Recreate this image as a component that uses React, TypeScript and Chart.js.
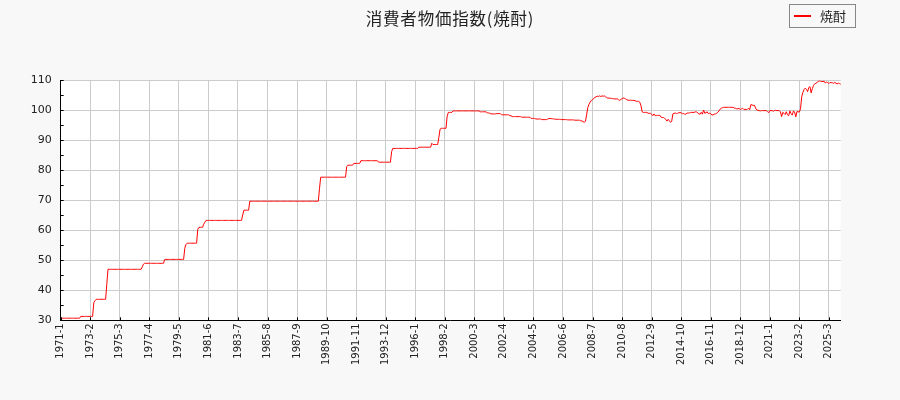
import React, { useEffect, useRef } from "react";
import { Chart, registerables } from "chart.js";

Chart.register(...registerables);

const TITLE = "消費者物価指数(焼酎)";
const SERIES_NAME = "焼酎";
const START_YEAR = 1971;
const LABEL_EVERY = 25;
const Y_MIN = 30;
const Y_MAX = 110;
const Y_STEP = 10;
const Y_MINOR = 5;

// monthly index values, one row per year (Jan..Dec), from 1971-1 to 2026-1
const values: number[] = [
  30.7, 30.7, 30.7, 30.7, 30.7, 30.7, 30.7, 30.7, 30.7, 30.7, 30.7, 30.7, // 1971
  30.7, 30.7, 30.7, 30.7, 30.7, 31.3, 31.3, 31.3, 31.3, 31.3, 31.3, 31.3, // 1972
  31.3, 31.3, 31.3, 31.3, 35.9, 36.5, 37.0, 37.0, 37.0, 37.0, 37.0, 37.0, // 1973
  37.0, 37.0, 37.0, 42.0, 47.0, 47.0, 47.0, 47.0, 47.0, 47.0, 47.0, 47.0, // 1974
  47.0, 47.0, 47.0, 47.0, 47.0, 47.0, 47.0, 47.0, 47.0, 47.0, 47.0, 47.0, // 1975
  47.0, 47.0, 47.0, 47.0, 47.0, 47.0, 47.0, 47.0, 47.0, 47.8, 48.7, 49.0, // 1976
  49.0, 49.0, 49.0, 49.0, 49.0, 49.0, 49.0, 49.0, 49.0, 49.0, 49.0, 49.0, // 1977
  49.0, 49.0, 49.0, 49.0, 50.3, 50.3, 50.3, 50.3, 50.3, 50.3, 50.3, 50.3, // 1978
  50.3, 50.3, 50.3, 50.3, 50.3, 50.3, 50.3, 50.3, 50.3, 54.0, 55.3, 55.7, // 1979
  55.7, 55.7, 55.7, 55.7, 55.7, 55.7, 55.7, 55.7, 60.3, 61.0, 61.0, 61.0, // 1980
  61.0, 62.0, 62.7, 63.3, 63.3, 63.3, 63.3, 63.3, 63.3, 63.3, 63.3, 63.3, // 1981
  63.3, 63.3, 63.3, 63.3, 63.3, 63.3, 63.3, 63.3, 63.3, 63.3, 63.3, 63.3, // 1982
  63.3, 63.3, 63.3, 63.3, 63.3, 63.3, 63.3, 63.3, 63.3, 63.3, 65.1, 66.7, // 1983
  66.7, 66.7, 66.7, 66.7, 69.7, 69.7, 69.7, 69.7, 69.7, 69.7, 69.7, 69.7, // 1984
  69.7, 69.7, 69.7, 69.7, 69.7, 69.7, 69.7, 69.7, 69.7, 69.7, 69.7, 69.7, // 1985
  69.7, 69.7, 69.7, 69.7, 69.7, 69.7, 69.7, 69.7, 69.7, 69.7, 69.7, 69.7, // 1986
  69.7, 69.7, 69.7, 69.7, 69.7, 69.7, 69.7, 69.7, 69.7, 69.7, 69.7, 69.7, // 1987
  69.7, 69.7, 69.7, 69.7, 69.7, 69.7, 69.7, 69.7, 69.7, 69.7, 69.7, 69.7, // 1988
  69.7, 69.7, 69.7, 74.0, 77.7, 77.7, 77.7, 77.7, 77.7, 77.7, 77.7, 77.7, // 1989
  77.7, 77.7, 77.7, 77.7, 77.7, 77.7, 77.7, 77.7, 77.7, 77.7, 77.7, 77.7, // 1990
  77.7, 77.7, 81.2, 81.7, 81.7, 81.7, 81.7, 81.7, 82.3, 82.3, 82.3, 82.3, // 1991
  82.3, 82.3, 83.2, 83.2, 83.2, 83.2, 83.2, 83.2, 83.2, 83.2, 83.2, 83.2, // 1992
  83.2, 83.2, 83.2, 83.2, 83.2, 82.7, 82.7, 82.7, 82.7, 82.7, 82.7, 82.7, // 1993
  82.7, 82.7, 82.7, 82.7, 86.2, 87.3, 87.3, 87.3, 87.3, 87.3, 87.3, 87.3, // 1994
  87.3, 87.3, 87.3, 87.3, 87.3, 87.3, 87.3, 87.3, 87.3, 87.3, 87.3, 87.3, // 1995
  87.3, 87.3, 87.3, 87.7, 87.7, 87.7, 87.7, 87.7, 87.7, 87.7, 87.7, 87.7, // 1996
  87.7, 87.7, 89.0, 88.6, 88.6, 88.6, 88.6, 88.6, 91.0, 93.7, 94.0, 94.0, // 1997
  94.0, 94.0, 94.0, 98.0, 99.3, 99.3, 99.3, 99.3, 99.8, 99.8, 99.8, 99.8, // 1998
  99.8, 99.8, 99.8, 99.8, 99.8, 99.8, 99.8, 99.8, 99.8, 99.8, 99.8, 99.8, // 1999
  99.8, 99.8, 99.8, 99.8, 99.8, 99.8, 99.8, 99.5, 99.5, 99.5, 99.5, 99.5, // 2000
  99.5, 99.1, 99.1, 99.1, 98.8, 98.8, 98.8, 98.8, 98.8, 98.9, 98.9, 98.9, // 2001
  98.9, 98.5, 98.5, 98.5, 98.5, 98.5, 98.5, 98.5, 98.2, 98.2, 97.9, 97.9, // 2002
  97.9, 97.9, 97.9, 97.9, 97.9, 97.9, 97.7, 97.7, 97.7, 97.7, 97.7, 97.7, // 2003
  97.7, 97.7, 97.3, 97.3, 97.3, 97.3, 97.1, 97.1, 97.1, 97.1, 97.1, 96.9, // 2004
  96.9, 96.9, 96.9, 96.9, 97.1, 97.2, 97.3, 97.2, 97.2, 97.1, 97.1, 97.0, // 2005
  97.0, 97.0, 97.0, 97.0, 96.9, 96.9, 96.9, 96.9, 96.9, 96.8, 96.8, 96.8, // 2006
  96.8, 96.8, 96.8, 96.7, 96.7, 96.7, 96.7, 96.7, 96.5, 96.5, 96.2, 96.0, // 2007
  96.3, 98.5, 100.9, 102.0, 102.7, 103.3, 103.5, 104.0, 104.3, 104.5, 104.7, 104.6, // 2008
  104.8, 104.6, 104.8, 104.7, 104.8, 104.5, 104.3, 104.0, 104.1, 104.0, 104.0, 103.9, // 2009
  103.8, 103.8, 103.8, 103.8, 103.5, 103.3, 103.6, 103.9, 104.1, 104.0, 103.8, 103.5, // 2010
  103.4, 103.3, 103.4, 103.3, 103.3, 103.3, 103.2, 103.0, 103.0, 103.0, 102.7, 101.5, // 2011
  99.5, 99.3, 99.3, 99.3, 99.3, 99.0, 99.0, 99.0, 98.7, 98.2, 98.8, 98.2, // 2012
  98.3, 98.3, 98.3, 98.3, 97.7, 97.6, 97.6, 97.3, 97.0, 96.4, 97.0, 96.5, // 2013
  96.0, 96.3, 98.8, 99.0, 99.1, 98.9, 99.0, 99.2, 99.2, 99.2, 98.9, 98.9, // 2014
  98.7, 98.7, 99.1, 99.1, 99.1, 99.3, 99.3, 99.3, 99.3, 99.5, 99.5, 99.1, // 2015
  98.8, 98.7, 99.3, 98.7, 100.1, 99.0, 99.2, 99.5, 98.9, 99.0, 98.9, 98.4, // 2016
  98.5, 98.7, 98.8, 99.0, 99.3, 99.8, 100.4, 100.7, 100.9, 101.0, 101.0, 101.0, // 2017
  101.0, 101.0, 101.0, 101.0, 101.0, 101.0, 100.7, 100.7, 100.5, 100.5, 100.7, 100.2, // 2018
  100.5, 100.7, 100.3, 100.3, 100.3, 100.3, 100.7, 100.2, 101.9, 101.8, 101.6, 101.7, // 2019
  100.7, 100.1, 100.0, 99.9, 99.8, 99.9, 99.9, 99.9, 99.9, 99.9, 99.6, 99.2, // 2020
  99.9, 99.9, 99.9, 99.7, 99.9, 100.0, 99.9, 99.9, 99.9, 99.5, 97.9, 99.3, // 2021
  99.0, 98.6, 99.5, 98.5, 98.2, 99.8, 98.9, 98.4, 99.8, 99.4, 97.8, 99.6, // 2022
  99.5, 99.4, 100.5, 104.5, 106.0, 106.9, 107.4, 107.0, 106.2, 107.6, 107.9, 105.8, // 2023
  107.2, 108.3, 108.8, 109.0, 109.3, 109.6, 109.8, 109.7, 109.6, 109.6, 109.7, 109.1, // 2024
  109.4, 109.3, 108.9, 109.3, 109.2, 109.2, 109.0, 109.3, 109.0, 108.8, 109.1, 108.9, // 2025
  108.7, // 2026
];

const categories: string[] = values.map((_, i) => `${START_YEAR + Math.floor(i / 12)}-${(i % 12) + 1}`);

const LINE_COLOR = "#ff0000";
const PAGE_BG = "#f8f8f8";
const GRID_COLOR = "#cccccc";
const TEXT_COLOR = "#222222";
const CJK_FONT = "'Noto Sans CJK JP'";
const TICK_FONT = "'DejaVu Sans'";

const decorPlugin = {
  id: "decor",
  beforeDraw(chart: any) {
    const { ctx, chartArea, width, height } = chart;
    ctx.save();
    ctx.fillStyle = PAGE_BG;
    ctx.fillRect(0, 0, width, height);
    ctx.fillStyle = "#ffffff";
    ctx.fillRect(chartArea.left, chartArea.top, chartArea.right - chartArea.left, chartArea.bottom - chartArea.top);
    ctx.restore();
  },
  afterDraw(chart: any) {
    const { ctx, chartArea, width } = chart;
    const xs = chart.scales.x;
    const ys = chart.scales.y;
    ctx.save();
    // inward tick marks
    ctx.strokeStyle = "#000000";
    ctx.lineWidth = 1;
    ctx.beginPath();
    for (let v = Y_MIN; v <= Y_MAX; v += Y_MINOR) {
      const y = Math.round(ys.getPixelForValue(v)) + 0.5;
      ctx.moveTo(chartArea.left, y);
      ctx.lineTo(chartArea.left + 3, y);
    }
    for (let i = 0; i < categories.length; i += LABEL_EVERY) {
      const x = Math.round(xs.getPixelForValue(i)) + 0.5;
      ctx.moveTo(x, chartArea.bottom);
      ctx.lineTo(x, chartArea.bottom - 3);
    }
    ctx.stroke();

    // title
    ctx.fillStyle = TEXT_COLOR;
    ctx.font = `16.5px ${CJK_FONT}`;
    (ctx as any).letterSpacing = "0.8px";
    ctx.textAlign = "center";
    ctx.textBaseline = "middle";
    ctx.fillText(TITLE, width / 2, 19);
    (ctx as any).letterSpacing = "0px";

    // legend
    const ds = chart.data.datasets[0];
    const bx = 789.5, by = 4.5, bw = 66, bh = 23;
    ctx.fillStyle = PAGE_BG;
    ctx.fillRect(bx, by, bw, bh);
    ctx.strokeStyle = "#888888";
    ctx.lineWidth = 1;
    ctx.strokeRect(bx, by, bw, bh);
    ctx.strokeStyle = ds.borderColor;
    ctx.lineWidth = 2;
    ctx.beginPath();
    ctx.moveTo(794, 16);
    ctx.lineTo(811, 16);
    ctx.stroke();
    ctx.fillStyle = TEXT_COLOR;
    ctx.font = `13px ${CJK_FONT}`;
    ctx.textBaseline = "middle";
    ctx.textAlign = "left";
    ctx.fillText(ds.label, 820, 16);
    ctx.restore();
  },
};

export default function App() {
  const canvasRef = useRef<HTMLCanvasElement | null>(null);

  useEffect(() => {
    document.body.style.margin = "0";
    document.body.style.background = PAGE_BG;
    const canvas = canvasRef.current;
    if (!canvas) return;
    const chart = new Chart(canvas, {
      type: "line",
      data: {
        labels: categories,
        datasets: [
          {
            label: SERIES_NAME,
            data: values,
            borderColor: LINE_COLOR,
            backgroundColor: LINE_COLOR,
            borderWidth: 1,
            pointRadius: 0,
            tension: 0,
            fill: false,
          },
        ],
      },
      options: {
        animation: false,
        responsive: false,
        devicePixelRatio: 1,
        layout: { padding: { left: 0, right: 59.3, top: 80.3, bottom: 0 } },
        plugins: {
          legend: { display: false },
          tooltip: { enabled: false },
          title: { display: false },
        },
        scales: {
          x: {
            type: "category",
            offset: false,
            grid: { drawTicks: false, color: GRID_COLOR },
            border: { color: "#000000", width: 1 },
            ticks: {
              autoSkip: false,
              maxRotation: 90,
              minRotation: 90,
              padding: 3,
              color: TEXT_COLOR,
              font: { family: TICK_FONT, size: 10 },
              callback: (_v: any, i: number) => (i % LABEL_EVERY === 0 ? categories[i] : null),
            },
            afterFit: (s: any) => {
              s.height = 79.7;
            },
          },
          y: {
            min: Y_MIN,
            max: Y_MAX,
            grid: { drawTicks: false, color: GRID_COLOR },
            border: { color: "#000000", width: 1 },
            ticks: {
              stepSize: Y_STEP,
              padding: 9,
              color: TEXT_COLOR,
              font: { family: TICK_FONT, size: 11 },
            },
            afterFit: (s: any) => {
              s.width = 60.7;
            },
          },
        },
      },
      plugins: [decorPlugin],
    } as any);
    return () => chart.destroy();
  }, []);

  return (
    <div style={{ width: 900, height: 400 }}>
      <canvas ref={canvasRef} width={900} height={400} style={{ display: "block" }} />
    </div>
  );
}
